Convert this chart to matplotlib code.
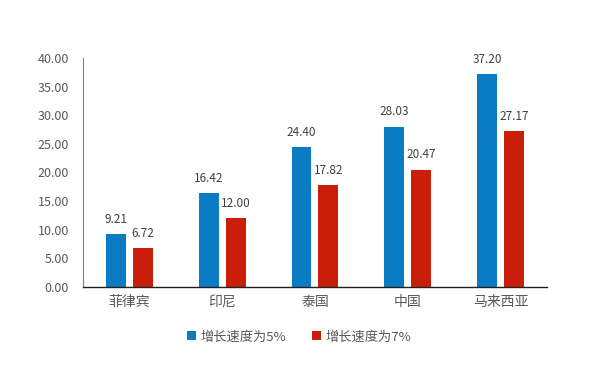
import numpy as np
import matplotlib
matplotlib.use("Agg")
import matplotlib.pyplot as plt

plt.rcParams['font.family'] = ['Noto Sans CJK SC', 'DejaVu Sans']

# --- Data ---
countries = ["菲律宾", "印尼", "泰国", "中国", "马来西亚"]
growth_5 = [9.21, 16.42, 24.40, 28.03, 37.20]
growth_7 = [6.72, 12.00, 17.82, 20.47, 27.17]
series_names = ["增长速度为5%", "增长速度为7%"]

BLUE = "#0A7CC4"
RED = "#C91F0A"
TEXT = "#595959"

fig = plt.figure(figsize=(5.92, 3.65), dpi=100)
ax = fig.add_axes([0.140, 0.214, 0.784, 0.627])

x = np.arange(len(countries))
w = 0.215
off = 0.145
b1 = ax.bar(x - off, growth_5, w, color=BLUE, label=series_names[0])
b2 = ax.bar(x + off, growth_7, w, color=RED, label=series_names[1])

for bars in (b1, b2):
    for rect in bars:
        h = rect.get_height()
        ax.annotate(f"{h:.2f}", (rect.get_x() + rect.get_width() / 2, h),
                    xytext=(0, 6), textcoords="offset points",
                    ha="center", va="bottom", fontsize=8.5, color="#404040")

ax.set_ylim(0, 40)
ax.set_xlim(-0.5, len(countries) - 0.5)
ax.set_yticks(np.arange(0, 41, 5))
ax.set_yticklabels([f"{v:.2f}" for v in np.arange(0, 41, 5)])
ax.set_xticks(x)
ax.set_xticklabels(countries)
ax.tick_params(axis="both", length=0, colors=TEXT)
ax.tick_params(axis="y", pad=10, labelsize=9)
ax.tick_params(axis="x", pad=6, labelsize=10)

for s in ("top", "right"):
    ax.spines[s].set_visible(False)
ax.spines["left"].set_color("#808080")
ax.spines["bottom"].set_color("#202020")
ax.spines["bottom"].set_linewidth(1.0)

fig.legend(handles=[b1, b2], labels=series_names, loc="center",
           bbox_to_anchor=(0.505, 0.077), ncol=2, frameon=False,
           fontsize=9.5, handlelength=0.7, handleheight=0.7,
           handletextpad=0.3, columnspacing=2.0, labelcolor=TEXT)

fig.savefig("out.png", dpi=100, facecolor="white")
